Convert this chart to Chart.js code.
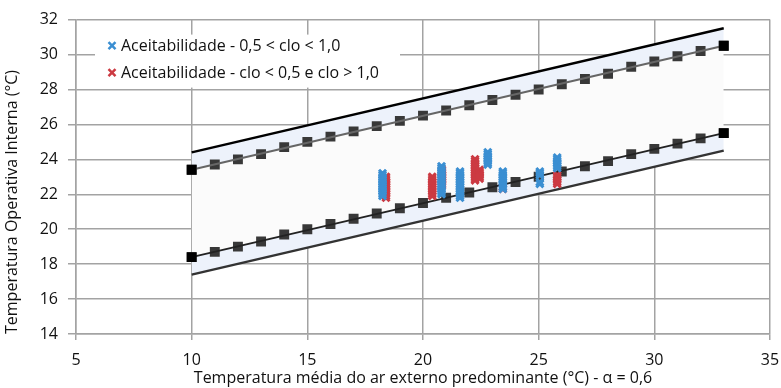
<!DOCTYPE html>
<html>
<head>
<meta charset="utf-8">
<script src="https://cdn.jsdelivr.net/npm/chart.js@4.4.1/dist/chart.umd.min.js"></script>
<style>
  html, body { margin: 0; padding: 0; background: #fff; }
  #wrap { width: 781px; height: 388px; }
</style>
</head>
<body>
<div id="wrap"><canvas id="grafico"></canvas></div>
<script>
// limites de conforto (linhas)
const limitX = [10, 33];
const sup90 = [24.4, 31.5];
const sup80 = [23.4, 30.5];
const inf80 = [18.4, 25.5];
const inf90 = [17.4, 24.5];

// marcadores quadrados ao longo das linhas de 80%
const quadX = [10, 11, 12, 13, 14, 15, 16, 17, 18, 19, 20, 21, 22, 23, 24, 25, 26, 27, 28, 29, 30, 31, 32, 33];
const quadSup = [23.4, 23.7, 24.0, 24.3, 24.7, 25.0, 25.3, 25.6, 25.9, 26.2, 26.5, 26.8, 27.1, 27.4, 27.7, 28.0, 28.3, 28.6, 28.9, 29.3, 29.6, 29.9, 30.2, 30.5];
const quadInf = [18.4, 18.7, 19.0, 19.3, 19.7, 20.0, 20.3, 20.6, 20.9, 21.2, 21.5, 21.8, 22.1, 22.4, 22.7, 23.0, 23.3, 23.6, 23.9, 24.3, 24.6, 24.9, 25.2, 25.5];

// pontos medidos - 0,5 < clo < 1,0
const azulX = [
  18.25, 18.25, 18.25, 18.25, 18.25, 18.25, 18.25, 18.25, 18.25, 18.25, 18.25, 18.25, 18.25, 18.25,
  20.8, 20.8, 20.8, 20.8, 20.8, 20.8, 20.8, 20.8, 20.8, 20.8, 20.8, 20.8, 20.8, 20.8, 20.8, 20.8, 20.8,
  21.6, 21.6, 21.6, 21.6, 21.6, 21.6, 21.6, 21.6, 21.6, 21.6, 21.6, 21.6, 21.6, 21.6, 21.6, 21.6,
  22.8, 22.8, 22.8, 22.8, 22.8, 22.8, 22.8, 22.8,
  23.45, 23.45, 23.45, 23.45, 23.45, 23.45, 23.45, 23.45, 23.45, 23.45, 23.45,
  25.05, 25.05, 25.05, 25.05, 25.05,
  25.8, 25.8, 25.8, 25.8, 25.8, 25.8, 25.8
];
const azulY = [
  23.2, 23.1, 23.0, 22.9, 22.8, 22.7, 22.6, 22.5, 22.4, 22.3, 22.2, 22.1, 22.0, 21.9,
  23.6, 23.5, 23.4, 23.3, 23.2, 23.1, 23.0, 22.9, 22.8, 22.7, 22.6, 22.5, 22.4, 22.3, 22.2, 22.1, 22.0,
  23.3, 23.2, 23.1, 23.0, 22.9, 22.8, 22.7, 22.6, 22.5, 22.4, 22.3, 22.2, 22.1, 22.0, 21.9, 21.8,
  24.4, 24.3, 24.2, 24.1, 24.0, 23.9, 23.8, 23.7,
  23.3, 23.2, 23.1, 23.0, 22.9, 22.8, 22.7, 22.6, 22.5, 22.4, 22.3,
  23.3, 23.2, 23.1, 22.7, 22.6,
  24.1, 24.0, 23.9, 23.8, 23.7, 23.6, 23.5
];

// pontos medidos - clo < 0,5 e clo > 1,0
const vermX = [
  18.4, 18.4, 18.4, 18.4, 18.4, 18.4, 18.4, 18.4, 18.4, 18.4, 18.4, 18.4, 18.4,
  20.4, 20.4, 20.4, 20.4, 20.4, 20.4, 20.4, 20.4, 20.4, 20.4, 20.4, 20.4,
  20.82, 20.82, 20.82, 20.82, 20.82, 20.82, 20.82, 20.82, 20.82, 20.82,
  22.25, 22.25, 22.25, 22.25, 22.25, 22.25, 22.25, 22.25, 22.25, 22.25, 22.25, 22.25, 22.25,
  22.45, 22.45, 22.45, 22.45, 22.45, 22.45,
  23.45, 23.45,
  25.8, 25.8, 25.8, 25.8, 25.8, 25.8
];
const vermY = [
  23.0, 22.9, 22.8, 22.7, 22.6, 22.5, 22.4, 22.3, 22.2, 22.1, 22.0, 21.9, 21.8,
  23.0, 22.9, 22.8, 22.7, 22.6, 22.5, 22.4, 22.3, 22.2, 22.1, 22.0, 21.9,
  23.4, 23.3, 23.2, 23.1, 23.0, 22.9, 22.8, 22.7, 22.6, 22.5,
  24.0, 23.9, 23.8, 23.7, 23.6, 23.5, 23.4, 23.3, 23.2, 23.1, 23.0, 22.9, 22.8,
  23.4, 23.3, 23.2, 23.1, 23.0, 22.9,
  22.4, 22.3,
  23.1, 23.0, 22.9, 22.8, 22.7, 22.6
];

const legendas = ['Aceitabilidade - 0,5 < clo < 1,0', 'Aceitabilidade - clo < 0,5 e clo > 1,0'];
const corAzul = '#3b8fd2';
const corVerm = '#cc3a42';
const corFaixa = '#edf2fb';
const corMeio = '#fbfbfb';
const fonte = '"Open Sans"';
const tam = 16;

function pares(xs, ys) {
  return xs.map((x, i) => ({ x: x, y: ys[i] }));
}

// legenda desenhada dentro da area do grafico, sobre fundo branco
const legendaInterna = {
  id: 'legendaInterna',
  afterDraw(chart) {
    const ctx = chart.ctx;
    const a = chart.chartArea;
    const cores = [corAzul, corVerm];
    ctx.save();
    ctx.fillStyle = '#fff';
    ctx.fillRect(a.left + 19, a.top + 15, 305, 53);
    ctx.font = tam + 'px ' + fonte;
    ctx.textBaseline = 'middle';
    legendas.forEach((txt, i) => {
      const y = a.top + 26 + i * 27;
      const x = a.left + 36;
      ctx.strokeStyle = cores[i];
      ctx.lineWidth = 2.5;
      ctx.beginPath();
      ctx.moveTo(x - 3.5, y - 3.5); ctx.lineTo(x + 3.5, y + 3.5);
      ctx.moveTo(x + 3.5, y - 3.5); ctx.lineTo(x - 3.5, y + 3.5);
      ctx.stroke();
      ctx.fillStyle = '#111';
      ctx.fillText(txt, x + 9, y + 1);
    });
    ctx.restore();
  }
};

const linha = (ys, cor, larg, alvo, bg) => ({
  type: 'line',
  data: pares(limitX, ys),
  borderColor: cor,
  borderWidth: larg,
  pointRadius: 0,
  showLine: true,
  fill: alvo === null ? false : { target: alvo, above: bg, below: bg },
  backgroundColor: bg
});

new Chart(document.getElementById('grafico'), {
  type: 'scatter',
  data: {
    datasets: [
      { data: pares(azulX, azulY), pointStyle: 'crossRot', pointRadius: 5, borderColor: corAzul, borderWidth: 3 },
      { data: pares(vermX, vermY), pointStyle: 'crossRot', pointRadius: 5, borderColor: corVerm, borderWidth: 3 },
      { data: pares(limitX.concat(limitX), sup80.concat(inf80)), pointStyle: 'rect', pointRadius: 7, backgroundColor: '#000', borderWidth: 0 },
      linha(sup80, '#666', 2, 4, corMeio),
      linha(inf80, '#222', 2, null, corMeio),
      { data: pares(quadX, quadSup), pointStyle: 'rect', pointRadius: 7, backgroundColor: '#383838', borderWidth: 0 },
      { data: pares(quadX, quadInf), pointStyle: 'rect', pointRadius: 7, backgroundColor: '#383838', borderWidth: 0 },
      linha(sup90, '#000', 2.5, 3, corFaixa),
      linha(inf90, '#333', 2.5, 4, corFaixa)
    ]
  },
  options: {
    responsive: true,
    maintainAspectRatio: false,
    animation: false,
    layout: { padding: { top: 17, right: 11, left: 0, bottom: 0 } },
    plugins: {
      legend: { display: false },
      tooltip: { enabled: false },
      filler: { drawTime: 'beforeDatasetsDraw', propagate: false }
    },
    scales: {
      x: {
        type: 'linear',
        min: 5, max: 35,
        ticks: { stepSize: 5, color: '#111', font: { family: fonte, size: tam }, padding: 11 },
        grid: { color: '#a3a3a3', lineWidth: 1.5, tickLength: 6 },
        border: { color: '#a3a3a3', width: 1.5 },
        title: { display: true, text: 'Temperatura média do ar externo predominante (°C) - α = 0,6', color: '#111', font: { family: fonte, size: tam }, padding: { top: 0, bottom: 0 } },
        afterFit(scale) { scale.height = 54; scale.paddingLeft = 0; scale.paddingRight = 0; }
      },
      y: {
        min: 14, max: 32,
        ticks: { stepSize: 2, color: '#111', font: { family: fonte, size: tam }, padding: 10 },
        grid: { color: '#a3a3a3', lineWidth: 1.5, tickLength: 8 },
        border: { color: '#a3a3a3', width: 1.5 },
        title: { display: true, align: 'start', text: 'Temperatura Operativa Interna (°C)', color: '#111', font: { family: fonte, size: tam }, padding: { top: 3, bottom: 0 } },
        afterFit(scale) { scale.width = 76; }
      }
    }
  },
  plugins: [legendaInterna]
});
</script>
</body>
</html>
